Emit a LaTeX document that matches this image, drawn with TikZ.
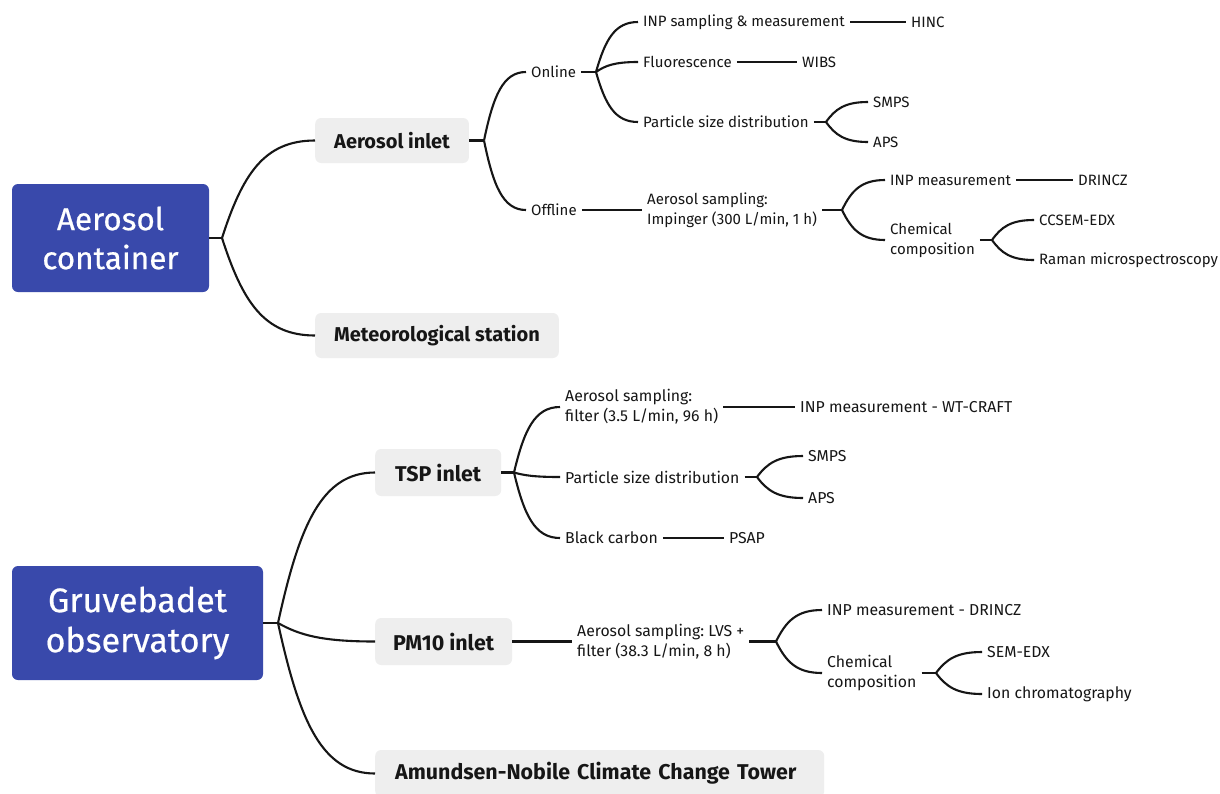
\documentclass[tikz,border=0pt]{standalone}
\usepackage{fontspec}
\setmainfont{Fira Sans}
\newfontfamily\rootfont{Fira Sans}[FakeBold=0.6]
\usetikzlibrary{calc}
\definecolor{rootblue}{RGB}{57,73,171}
\definecolor{boxgray}{RGB}{238,238,238}
\definecolor{ink}{RGB}{22,22,22}
\frenchspacing
\begin{document}
\begin{tikzpicture}[x=1pt,y=-1pt,
  rootbox/.style={fill=rootblue, rounded corners=6pt, text=white, align=center, inner sep=0pt},
  midbox/.style={fill=boxgray, rounded corners=6pt, text=ink, anchor=west, inner xsep=20pt},
  midtop/.style={midbox, font=\fontsize{20}{24}\selectfont\bfseries, minimum height=45pt, inner xsep=19pt},
  midbot/.style={midbox, font=\fontsize{21.4}{26}\selectfont\bfseries, minimum height=47pt},
  txt/.style={text=ink, anchor=west, align=left, inner xsep=5pt, inner ysep=2pt},
  txttop/.style={txt, font=\fontsize{15}{19.5}\selectfont},
  txtbot/.style={txt, font=\fontsize{15.8}{20}\selectfont},
  conn/.style={draw=ink, line width=2.1pt},
  br/.style={to path={let \p1=(\tikztostart),\p2=(\tikztotarget) in
    .. controls ({\x1+0.22*(\x2-\x1)},{\y1+0.65*(\y2-\y1)}) and ({\x1+0.45*(\x2-\x1)},\y2) .. (\tikztotarget)}}
]
\useasboundingbox (0,0) rectangle (1220,793);
\fill[white] (0,0) rectangle (1220,793);

% ---------- Aerosol container ----------
\node[rootbox, minimum width=197pt, minimum height=108pt, font=\fontsize{31.5}{39}\rootfont] (ac) at (110.5,238) {Aerosol\\container};
\node[midtop] (ai) at (315,140.5) {Aerosol inlet};
\node[midtop] (met) at (315,335.5) {Meteorological station};

\node[txttop] (on) at (526,72) {Online};
\node[txttop] (off) at (526,210) {Offline};
\node[txttop] (inp1) at (638,22) {INP sampling \& measurement};
\node[txttop] (hinc) at (906,22) {HINC};
\node[txttop] (fluo) at (638,62) {Fluorescence};
\node[txttop] (wibs) at (797,62) {WIBS};
\node[txttop] (psd1) at (638,122) {Particle size distribution};
\node[txttop] (smps1) at (868,102) {SMPS};
\node[txttop] (aps1) at (868,142) {APS};
\node[txttop] (imp) at (642,210) {Aerosol sampling:\\Impinger (300 L/min, 1 h)};
\node[txttop] (inpm1) at (885,180) {INP measurement};
\node[txttop] (drincz1) at (1073,180) {DRINCZ};
\node[txttop] (chem1) at (885,240) {Chemical\\composition};
\node[txttop] (ccsem) at (1034,220) {CCSEM-EDX};
\node[txttop] (raman) at (1034,260) {Raman microspectroscopy};

\coordinate (bA) at (222,238);
\coordinate (bAI) at (484,140.5);
\coordinate (bOn) at (596,72);
\coordinate (bPsd1) at (826,122);
\coordinate (bImp) at (842,210);
\coordinate (bChem1) at (992,240);

\draw[conn] (ac.east) -- (bA);
\draw[conn] (bA) to[br] (ai.west);
\draw[conn] (bA) to[br] (met.west);
\draw[conn] (ai.east) -- (bAI);
\draw[conn] (bAI) to[br] (on.west);
\draw[conn] (bAI) to[br] (off.west);
\draw[conn] (on.east) -- (bOn);
\draw[conn] (bOn) to[br] (inp1.west);
\draw[conn] (bOn) to[br] (fluo.west);
\draw[conn] (bOn) to[br] (psd1.west);
\draw[conn] (inp1.east) -- (hinc.west);
\draw[conn] (fluo.east) -- (wibs.west);
\draw[conn] (psd1.east) -- (bPsd1);
\draw[conn] (bPsd1) to[br] (smps1.west);
\draw[conn] (bPsd1) to[br] (aps1.west);
\draw[conn] (off.east) -- (imp.west);
\draw[conn] (imp.east) -- (bImp);
\draw[conn] (bImp) to[br] (inpm1.west);
\draw[conn] (bImp) to[br] (chem1.west);
\draw[conn] (inpm1.east) -- (drincz1.west);
\draw[conn] (chem1.east) -- (bChem1);
\draw[conn] (bChem1) to[br] (ccsem.west);
\draw[conn] (bChem1) to[br] (raman.west);

% ---------- Gruvebadet observatory ----------
\node[rootbox, minimum width=251pt, minimum height=114pt, font=\fontsize{34}{40}\rootfont] (go) at (137.5,623) {Gruvebadet\\observatory};
\node[midbot] (tsp) at (375,472.5) {TSP inlet};
\node[midbot, inner xsep=18pt] (pm) at (375,641.5) {PM10 inlet};
\node[midbot, text width=409pt, align=left] (amn) at (375,773.5) {Amundsen-Nobile Climate Change Tower};

\node[txtbot] (filt) at (560,407) {Aerosol sampling:\\filter (3.5 L/min, 96 h)};
\node[txtbot] (wtc) at (795,407) {INP measurement - WT-CRAFT};
\node[txtbot] (psd2) at (560,477) {Particle size distribution};
\node[txtbot] (smps2) at (803,456) {SMPS};
\node[txtbot] (aps2) at (803,498) {APS};
\node[txtbot] (bc) at (560,538) {Black carbon};
\node[txtbot] (psap) at (724,538) {PSAP};
\node[txtbot] (lvs) at (572,641.5) {Aerosol sampling: LVS +\\filter (38.3 L/min, 8 h)};
\node[txtbot] (inpd) at (822,610) {INP measurement - DRINCZ};
\node[txtbot] (chem2) at (822,673) {Chemical\\composition};
\node[txtbot] (sem) at (982,652) {SEM-EDX};
\node[txtbot] (ion) at (982,694) {Ion chromatography};

\coordinate (bG) at (278,623);
\coordinate (bTSP) at (514,472.5);
\coordinate (bPsd2) at (757,477);
\coordinate (bLvs) at (776,641.5);
\coordinate (bChem2) at (936,673);

\draw[conn] (go.east) -- (bG);
\draw[conn] (bG) to[br] (tsp.west);
\draw[conn] (bG) to[br] (pm.west);
\draw[conn] (bG) to[br] (amn.west);
\draw[conn] (tsp.east) -- (bTSP);
\draw[conn] (bTSP) to[br] (filt.west);
\draw[conn] (bTSP) to[br] (psd2.west);
\draw[conn] (bTSP) to[br] (bc.west);
\draw[conn] (filt.east) -- (wtc.west);
\draw[conn] (psd2.east) -- (bPsd2);
\draw[conn] (bPsd2) to[br] (smps2.west);
\draw[conn] (bPsd2) to[br] (aps2.west);
\draw[conn] (bc.east) -- (psap.west);
\draw[conn] (pm.east) -- (lvs.west);
\draw[conn] (lvs.east) -- (bLvs);
\draw[conn] (bLvs) to[br] (inpd.west);
\draw[conn] (bLvs) to[br] (chem2.west);
\draw[conn] (chem2.east) -- (bChem2);
\draw[conn] (bChem2) to[br] (sem.west);
\draw[conn] (bChem2) to[br] (ion.west);
\end{tikzpicture}
\end{document}
